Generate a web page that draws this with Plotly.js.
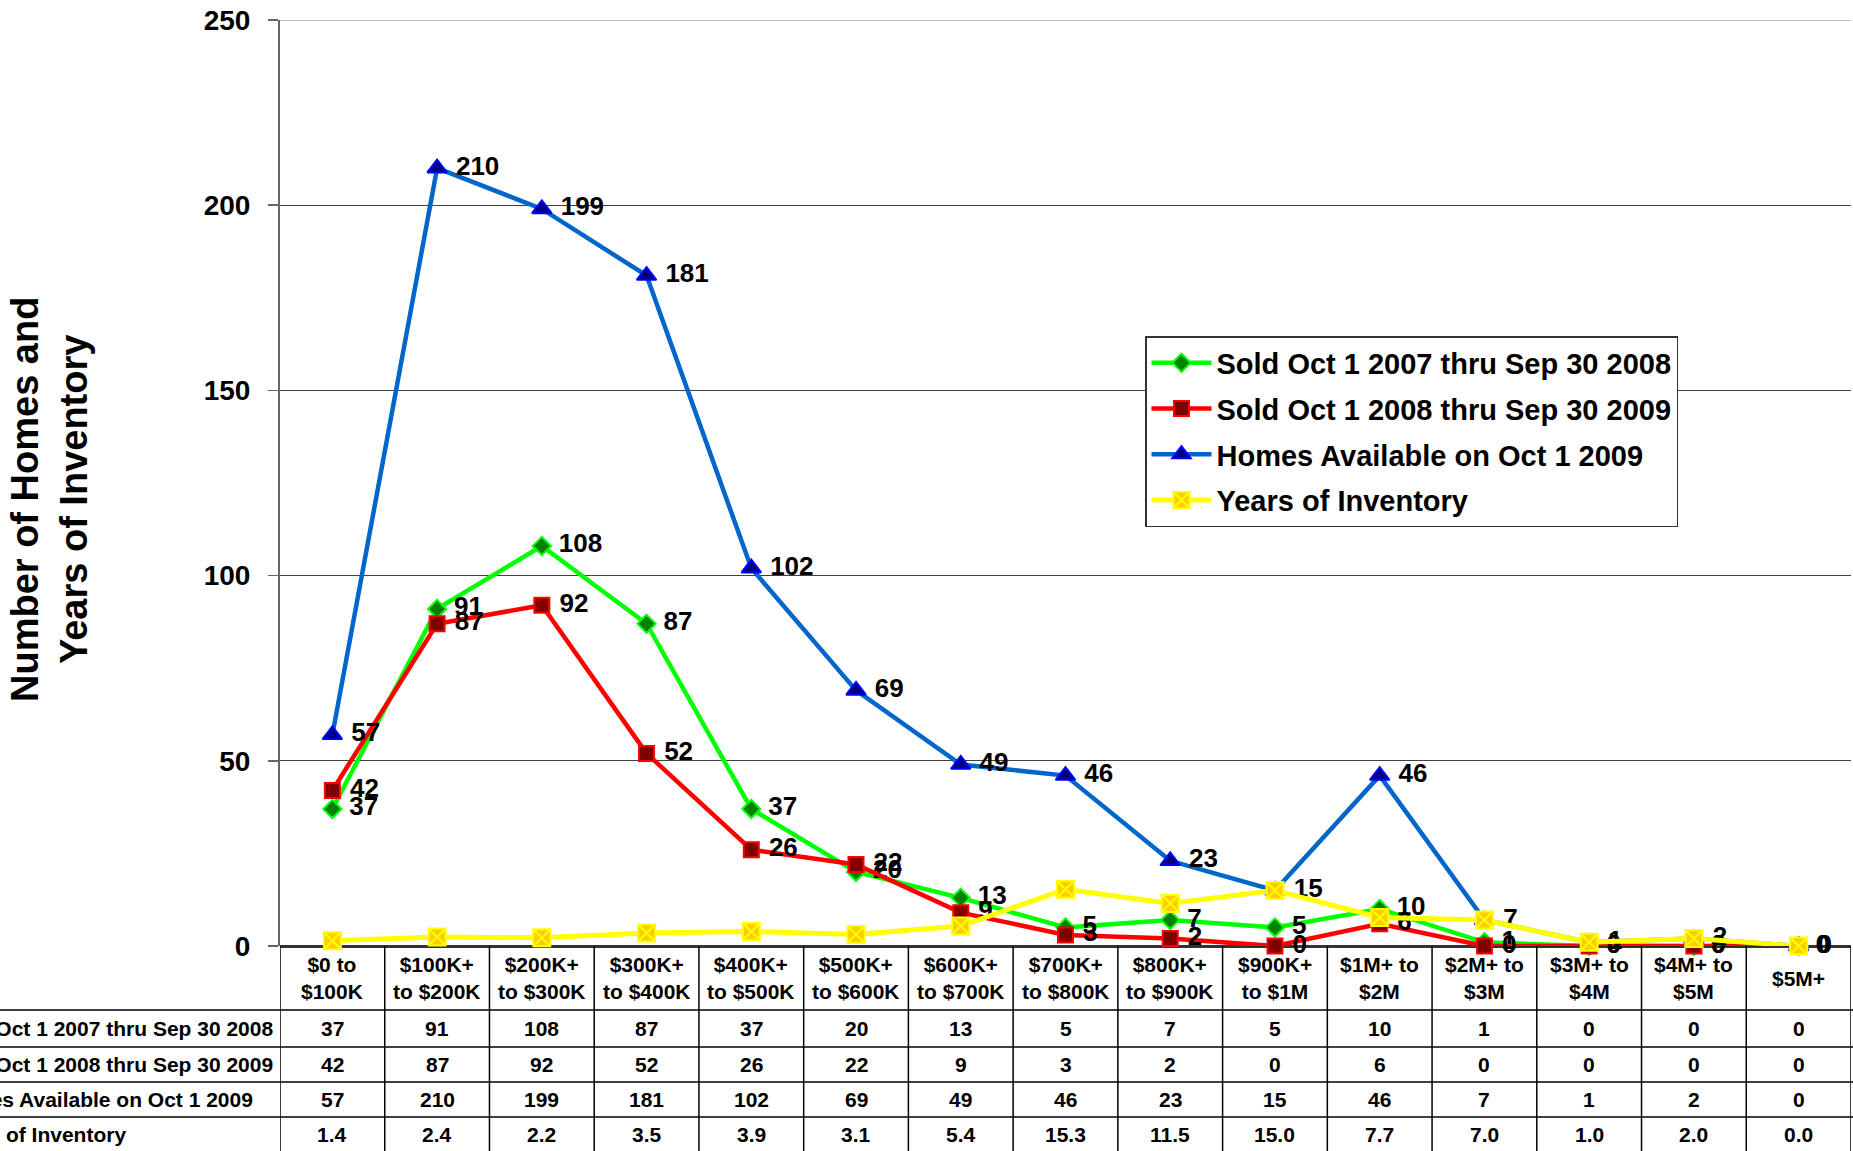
<!DOCTYPE html>
<html>
<head>
<meta charset="utf-8">
<script src="https://cdn.plot.ly/plotly-3.0.1.min.js"></script>
<style>html,body{margin:0;padding:0;background:#fff;}#chart{width:1853px;height:1151px;}</style>
</head>
<body>
<div id="chart"></div>
<script>
// ---- data ----
var categories = ["$0 to<br>$100K", "$100K+<br>to $200K", "$200K+<br>to $300K", "$300K+<br>to $400K",
  "$400K+<br>to $500K", "$500K+<br>to $600K", "$600K+<br>to $700K", "$700K+<br>to $800K",
  "$800K+<br>to $900K", "$900K+<br>to $1M", "$1M+ to<br>$2M", "$2M+ to<br>$3M",
  "$3M+ to<br>$4M", "$4M+ to<br>$5M", "$5M+"];
var seriesNames = ["Sold Oct 1 2007 thru Sep 30 2008", "Sold Oct 1 2008 thru Sep 30 2009",
  "Homes Available on Oct 1 2009", "Years of Inventory"];
var sold0708 = [37, 91, 108, 87, 37, 20, 13, 5, 7, 5, 10, 1, 0, 0, 0];
var sold0809 = [42, 87, 92, 52, 26, 22, 9, 3, 2, 0, 6, 0, 0, 0, 0];
var available = [57, 210, 199, 181, 102, 69, 49, 46, 23, 15, 46, 7, 1, 2, 0];
var yearsInv = [1.4, 2.4, 2.2, 3.5, 3.9, 3.1, 5.4, 15.3, 11.5, 15.0, 7.7, 7.0, 1.0, 2.0, 0.0];
var yTicks = [0, 50, 100, 150, 200, 250];

// ---- layout constants ----
var FONT = "Liberation Sans, Arial, Helvetica, sans-serif";
var W = 1853, H = 1151, ML = 280, MR = 2, MT = 20, MB = 205;
var plotH = H - MT - MB, plotW = W - ML - MR;
function py(p) { return (H - MB - p) / plotH; }   // pixel y -> paper y
function px(p) { return (p - ML) / plotW; }       // pixel x -> paper x

var labelFont = {family: FONT, size: 26, color: "#000", weight: "bold"};
function lbl(v) { return "\u00a0" + String(v); }

var traces = [
  {
    x: categories, y: sold0708, name: seriesNames[0], legendgroup: "g1",
    type: "scatter", mode: "lines+markers+text",
    text: sold0708.map(lbl), textposition: "middle right", textfont: labelFont,
    line: {color: "#00ff00", width: 4.5},
    marker: {symbol: "diamond", size: 14, color: "#008000", line: {color: "#00ff00", width: 2}},
    cliponaxis: false
  },
  {
    x: categories, y: sold0809, name: seriesNames[1], legendgroup: "g2",
    type: "scatter", mode: "lines+markers+text",
    text: sold0809.map(lbl), textposition: "middle right", textfont: labelFont,
    line: {color: "#ff0000", width: 4.5},
    marker: {symbol: "square", size: 15, color: "#800000", line: {color: "#ff0000", width: 2}},
    cliponaxis: false
  },
  {
    x: categories, y: available, name: seriesNames[2], legendgroup: "g3",
    type: "scatter", mode: "lines+markers+text",
    text: available.map(lbl), textposition: "middle right", textfont: labelFont,
    line: {color: "#0066cc", width: 4.5},
    marker: {symbol: "triangle-up", size: 17, color: "#000080", line: {color: "#0000ff", width: 2}},
    cliponaxis: false
  },
  {
    x: categories, y: yearsInv, name: seriesNames[3], legendgroup: "g4",
    type: "scatter", mode: "lines+markers",
    line: {color: "#ffff00", width: 5},
    marker: {symbol: "square-x", size: 17, color: "#ffcc00", line: {color: "#ffff00", width: 2}},
    cliponaxis: false
  }
];

// ---- data table below the plot ----
var rowCenters = [1028.5, 1064.5, 1099.5, 1134];
var rowLines = [1010, 1047, 1082, 1117];
var tableRows = [sold0708, sold0809, available, yearsInv.map(function (v) { return v.toFixed(1); })];
var cellFont = {family: FONT, size: 21, color: "#000", weight: "bold"};

var annotations = [];
var shapes = [];

// category header labels
categories.forEach(function (c) {
  annotations.push({xref: "x", yref: "paper", x: c, y: py(978), text: c, showarrow: false,
    xanchor: "center", yanchor: "middle", font: cellFont, align: "center"});
});
// row labels
seriesNames.forEach(function (n, r) {
  annotations.push({xref: "paper", yref: "paper", x: px(-58), y: py(rowCenters[r]), text: n,
    showarrow: false, xanchor: "left", yanchor: "middle", font: cellFont, align: "left"});
});
// cell values
tableRows.forEach(function (row, r) {
  row.forEach(function (v, i) {
    annotations.push({xref: "x", yref: "paper", x: categories[i], y: py(rowCenters[r]), text: String(v),
      showarrow: false, xanchor: "center", yanchor: "middle", font: cellFont});
  });
});
// y axis title
annotations.push({xref: "paper", yref: "paper", x: px(50), y: py(500), textangle: -90,
  text: "Number of Homes and<br>Years of Inventory", showarrow: false, xanchor: "center", yanchor: "middle",
  font: {family: FONT, size: 38, color: "#000", weight: "bold"}, align: "center"});

// table horizontal lines
rowLines.forEach(function (p) {
  shapes.push({type: "line", xref: "paper", yref: "paper", x0: px(0), x1: px(W + 5), y0: py(p), y1: py(p),
    line: {color: "#000", width: 1.5}, layer: "above"});
});
// table vertical lines
for (var i = 0; i <= categories.length; i++) {
  shapes.push({type: "line", xref: "x", yref: "paper", x0: i - 0.5, x1: i - 0.5, y0: 0, y1: py(H + 5),
    line: {color: "#000", width: 1.5}, layer: "above"});
}
// top border of plot area
shapes.push({type: "line", xref: "paper", yref: "y", x0: 0, x1: 1, y0: 250, y1: 250,
  line: {color: "#c0c0c0", width: 2}, layer: "below"});

var layout = {
  width: W, height: H,
  margin: {l: ML, r: MR, t: MT, b: MB, pad: 0},
  paper_bgcolor: "#ffffff", plot_bgcolor: "#ffffff",
  font: {family: FONT, size: 21, color: "#000", weight: "bold"},
  showlegend: true,
  legend: {
    x: px(1145), y: py(336), xanchor: "left", yanchor: "top",
    bgcolor: "#ffffff", bordercolor: "#333333", borderwidth: 1.5,
    font: {family: FONT, size: 29, color: "#000", weight: "bold"},
    tracegroupgap: 5, itemwidth: 60
  },
  xaxis: {
    type: "category", categoryorder: "array", categoryarray: categories,
    range: [-0.5, categories.length - 0.5], showticklabels: false, ticks: "",
    showgrid: false, zeroline: false, showline: false, fixedrange: true
  },
  yaxis: {
    range: [0, 250], tickvals: yTicks, ticktext: yTicks.map(String),
    showgrid: true, gridcolor: "#404040", gridwidth: 1,
    zeroline: true, zerolinecolor: "#333333", zerolinewidth: 3,
    showline: true, linecolor: "#666666", linewidth: 2,
    ticks: "outside", ticklen: 10, tickcolor: "#666666", tickwidth: 1.5,
    tickfont: {family: FONT, size: 28, color: "#000", weight: "bold"},
    ticklabelstandoff: 12, fixedrange: true
  },
  annotations: annotations,
  shapes: shapes,
  hovermode: false
};

Plotly.newPlot("chart", traces, layout, {displayModeBar: false, staticPlot: true});
</script>
</body>
</html>
